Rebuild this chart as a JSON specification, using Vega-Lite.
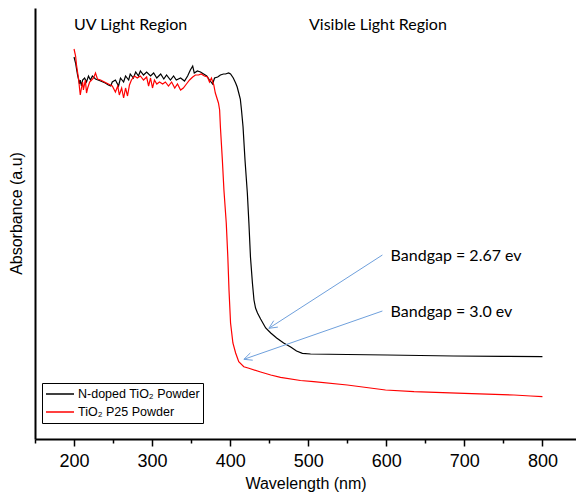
{
  "$schema": "https://vega.github.io/schema/vega-lite/v6.json",
  "width": 541,
  "height": 431,
  "autosize": {"type": "none"},
  "padding": {"left": 35, "top": 8, "right": 0, "bottom": 55},
  "background": "white",
  "config": {
    "view": {"stroke": null},
    "axis": {"domainColor": "black", "domainWidth": 2, "tickColor": "black", "labelColor": "black", "titleColor": "black", "labelFont": "Liberation Sans", "titleFont": "Liberation Sans", "titleFontWeight": "normal", "grid": false}
  },
  "layer": [
    {
      "data": {"values": [
        {"s":"N-doped TiO₂ Powder","w":200,"a":3.82},{"s":"N-doped TiO₂ Powder","w":202,"a":3.76},{"s":"N-doped TiO₂ Powder","w":203,"a":3.71},{"s":"N-doped TiO₂ Powder","w":204.5,"a":3.64},{"s":"N-doped TiO₂ Powder","w":206,"a":3.59},{"s":"N-doped TiO₂ Powder","w":207,"a":3.55},{"s":"N-doped TiO₂ Powder","w":208,"a":3.59},{"s":"N-doped TiO₂ Powder","w":209.5,"a":3.53},{"s":"N-doped TiO₂ Powder","w":211,"a":3.59},{"s":"N-doped TiO₂ Powder","w":213.5,"a":3.61},{"s":"N-doped TiO₂ Powder","w":216,"a":3.57},{"s":"N-doped TiO₂ Powder","w":218.5,"a":3.63},{"s":"N-doped TiO₂ Powder","w":221,"a":3.59},{"s":"N-doped TiO₂ Powder","w":223.5,"a":3.63},{"s":"N-doped TiO₂ Powder","w":227.5,"a":3.60},{"s":"N-doped TiO₂ Powder","w":234,"a":3.58},{"s":"N-doped TiO₂ Powder","w":240,"a":3.56},{"s":"N-doped TiO₂ Powder","w":244,"a":3.54},{"s":"N-doped TiO₂ Powder","w":247,"a":3.53},{"s":"N-doped TiO₂ Powder","w":249,"a":3.57},{"s":"N-doped TiO₂ Powder","w":253,"a":3.59},{"s":"N-doped TiO₂ Powder","w":257,"a":3.53},{"s":"N-doped TiO₂ Powder","w":259.5,"a":3.61},{"s":"N-doped TiO₂ Powder","w":263.5,"a":3.57},{"s":"N-doped TiO₂ Powder","w":266,"a":3.63},{"s":"N-doped TiO₂ Powder","w":270,"a":3.59},{"s":"N-doped TiO₂ Powder","w":272,"a":3.65},{"s":"N-doped TiO₂ Powder","w":276,"a":3.61},{"s":"N-doped TiO₂ Powder","w":279,"a":3.67},{"s":"N-doped TiO₂ Powder","w":282.5,"a":3.63},{"s":"N-doped TiO₂ Powder","w":285,"a":3.68},{"s":"N-doped TiO₂ Powder","w":289,"a":3.64},{"s":"N-doped TiO₂ Powder","w":293,"a":3.67},{"s":"N-doped TiO₂ Powder","w":298,"a":3.63},{"s":"N-doped TiO₂ Powder","w":302,"a":3.66},{"s":"N-doped TiO₂ Powder","w":306,"a":3.61},{"s":"N-doped TiO₂ Powder","w":311,"a":3.65},{"s":"N-doped TiO₂ Powder","w":315,"a":3.60},{"s":"N-doped TiO₂ Powder","w":318.5,"a":3.64},{"s":"N-doped TiO₂ Powder","w":323.5,"a":3.59},{"s":"N-doped TiO₂ Powder","w":327.5,"a":3.63},{"s":"N-doped TiO₂ Powder","w":331,"a":3.59},{"s":"N-doped TiO₂ Powder","w":336.5,"a":3.61},{"s":"N-doped TiO₂ Powder","w":341.5,"a":3.58},{"s":"N-doped TiO₂ Powder","w":345.5,"a":3.63},{"s":"N-doped TiO₂ Powder","w":349,"a":3.69},{"s":"N-doped TiO₂ Powder","w":352,"a":3.73},{"s":"N-doped TiO₂ Powder","w":354,"a":3.66},{"s":"N-doped TiO₂ Powder","w":358,"a":3.68},{"s":"N-doped TiO₂ Powder","w":362,"a":3.67},{"s":"N-doped TiO₂ Powder","w":366,"a":3.65},{"s":"N-doped TiO₂ Powder","w":370,"a":3.63},{"s":"N-doped TiO₂ Powder","w":373.5,"a":3.59},{"s":"N-doped TiO₂ Powder","w":377.5,"a":3.55},{"s":"N-doped TiO₂ Powder","w":380,"a":3.61},{"s":"N-doped TiO₂ Powder","w":384,"a":3.62},{"s":"N-doped TiO₂ Powder","w":387.5,"a":3.64},{"s":"N-doped TiO₂ Powder","w":391.5,"a":3.65},{"s":"N-doped TiO₂ Powder","w":394,"a":3.65},{"s":"N-doped TiO₂ Powder","w":398,"a":3.66},{"s":"N-doped TiO₂ Powder","w":400.5,"a":3.65},{"s":"N-doped TiO₂ Powder","w":404,"a":3.61},{"s":"N-doped TiO₂ Powder","w":407,"a":3.56},{"s":"N-doped TiO₂ Powder","w":409,"a":3.52},{"s":"N-doped TiO₂ Powder","w":411,"a":3.46},{"s":"N-doped TiO₂ Powder","w":413,"a":3.40},{"s":"N-doped TiO₂ Powder","w":414.5,"a":3.29},{"s":"N-doped TiO₂ Powder","w":416.5,"a":3.12},{"s":"N-doped TiO₂ Powder","w":419,"a":2.79},{"s":"N-doped TiO₂ Powder","w":422,"a":2.46},{"s":"N-doped TiO₂ Powder","w":424,"a":2.16},{"s":"N-doped TiO₂ Powder","w":426,"a":1.82},{"s":"N-doped TiO₂ Powder","w":428.5,"a":1.56},{"s":"N-doped TiO₂ Powder","w":430.5,"a":1.39},{"s":"N-doped TiO₂ Powder","w":432.5,"a":1.31},{"s":"N-doped TiO₂ Powder","w":435,"a":1.26},{"s":"N-doped TiO₂ Powder","w":439,"a":1.20},{"s":"N-doped TiO₂ Powder","w":445.5,"a":1.11},{"s":"N-doped TiO₂ Powder","w":452,"a":1.06},{"s":"N-doped TiO₂ Powder","w":459.5,"a":1.01},{"s":"N-doped TiO₂ Powder","w":468.5,"a":0.96},{"s":"N-doped TiO₂ Powder","w":477.5,"a":0.92},{"s":"N-doped TiO₂ Powder","w":485,"a":0.88},{"s":"N-doped TiO₂ Powder","w":492.5,"a":0.857},{"s":"N-doped TiO₂ Powder","w":503,"a":0.85},{"s":"N-doped TiO₂ Powder","w":550,"a":0.845},{"s":"N-doped TiO₂ Powder","w":601,"a":0.84},{"s":"N-doped TiO₂ Powder","w":686,"a":0.83},{"s":"N-doped TiO₂ Powder","w":750,"a":0.826},{"s":"N-doped TiO₂ Powder","w":800,"a":0.823},
        {"s":"TiO₂ P25 Powder","w":200,"a":3.90},{"s":"TiO₂ P25 Powder","w":202,"a":3.83},{"s":"TiO₂ P25 Powder","w":203,"a":3.75},{"s":"TiO₂ P25 Powder","w":204.5,"a":3.67},{"s":"TiO₂ P25 Powder","w":206,"a":3.59},{"s":"TiO₂ P25 Powder","w":207,"a":3.51},{"s":"TiO₂ P25 Powder","w":208,"a":3.44},{"s":"TiO₂ P25 Powder","w":209.5,"a":3.51},{"s":"TiO₂ P25 Powder","w":211,"a":3.57},{"s":"TiO₂ P25 Powder","w":212,"a":3.49},{"s":"TiO₂ P25 Powder","w":213.5,"a":3.55},{"s":"TiO₂ P25 Powder","w":214.5,"a":3.59},{"s":"TiO₂ P25 Powder","w":216,"a":3.46},{"s":"TiO₂ P25 Powder","w":217.5,"a":3.51},{"s":"TiO₂ P25 Powder","w":220,"a":3.57},{"s":"TiO₂ P25 Powder","w":222.5,"a":3.59},{"s":"TiO₂ P25 Powder","w":225,"a":3.61},{"s":"TiO₂ P25 Powder","w":227.5,"a":3.66},{"s":"TiO₂ P25 Powder","w":230,"a":3.60},{"s":"TiO₂ P25 Powder","w":234,"a":3.59},{"s":"TiO₂ P25 Powder","w":239,"a":3.57},{"s":"TiO₂ P25 Powder","w":244,"a":3.55},{"s":"TiO₂ P25 Powder","w":249,"a":3.53},{"s":"TiO₂ P25 Powder","w":253,"a":3.47},{"s":"TiO₂ P25 Powder","w":256,"a":3.53},{"s":"TiO₂ P25 Powder","w":258,"a":3.44},{"s":"TiO₂ P25 Powder","w":261,"a":3.51},{"s":"TiO₂ P25 Powder","w":263.5,"a":3.41},{"s":"TiO₂ P25 Powder","w":266,"a":3.51},{"s":"TiO₂ P25 Powder","w":268.5,"a":3.43},{"s":"TiO₂ P25 Powder","w":271,"a":3.54},{"s":"TiO₂ P25 Powder","w":273.5,"a":3.59},{"s":"TiO₂ P25 Powder","w":277.5,"a":3.63},{"s":"TiO₂ P25 Powder","w":281,"a":3.61},{"s":"TiO₂ P25 Powder","w":285,"a":3.63},{"s":"TiO₂ P25 Powder","w":289,"a":3.59},{"s":"TiO₂ P25 Powder","w":293,"a":3.62},{"s":"TiO₂ P25 Powder","w":295.5,"a":3.53},{"s":"TiO₂ P25 Powder","w":298,"a":3.61},{"s":"TiO₂ P25 Powder","w":300.5,"a":3.51},{"s":"TiO₂ P25 Powder","w":303,"a":3.59},{"s":"TiO₂ P25 Powder","w":306,"a":3.55},{"s":"TiO₂ P25 Powder","w":309.5,"a":3.57},{"s":"TiO₂ P25 Powder","w":313.5,"a":3.55},{"s":"TiO₂ P25 Powder","w":317,"a":3.57},{"s":"TiO₂ P25 Powder","w":321,"a":3.53},{"s":"TiO₂ P25 Powder","w":325,"a":3.57},{"s":"TiO₂ P25 Powder","w":329,"a":3.51},{"s":"TiO₂ P25 Powder","w":332.5,"a":3.55},{"s":"TiO₂ P25 Powder","w":336.5,"a":3.49},{"s":"TiO₂ P25 Powder","w":340,"a":3.51},{"s":"TiO₂ P25 Powder","w":344,"a":3.55},{"s":"TiO₂ P25 Powder","w":348,"a":3.59},{"s":"TiO₂ P25 Powder","w":352,"a":3.62},{"s":"TiO₂ P25 Powder","w":355.5,"a":3.64},{"s":"TiO₂ P25 Powder","w":359.5,"a":3.64},{"s":"TiO₂ P25 Powder","w":363,"a":3.65},{"s":"TiO₂ P25 Powder","w":367,"a":3.63},{"s":"TiO₂ P25 Powder","w":371,"a":3.62},{"s":"TiO₂ P25 Powder","w":373.5,"a":3.57},{"s":"TiO₂ P25 Powder","w":376,"a":3.61},{"s":"TiO₂ P25 Powder","w":379,"a":3.54},{"s":"TiO₂ P25 Powder","w":381,"a":3.46},{"s":"TiO₂ P25 Powder","w":385,"a":3.36},{"s":"TiO₂ P25 Powder","w":386.5,"a":3.29},{"s":"TiO₂ P25 Powder","w":387.5,"a":3.12},{"s":"TiO₂ P25 Powder","w":390,"a":2.79},{"s":"TiO₂ P25 Powder","w":392,"a":2.49},{"s":"TiO₂ P25 Powder","w":395,"a":2.16},{"s":"TiO₂ P25 Powder","w":397,"a":1.82},{"s":"TiO₂ P25 Powder","w":398.5,"a":1.49},{"s":"TiO₂ P25 Powder","w":400.5,"a":1.16},{"s":"TiO₂ P25 Powder","w":403.5,"a":0.96},{"s":"TiO₂ P25 Powder","w":407,"a":0.86},{"s":"TiO₂ P25 Powder","w":411,"a":0.773},{"s":"TiO₂ P25 Powder","w":417.5,"a":0.723},{"s":"TiO₂ P25 Powder","w":424,"a":0.707},{"s":"TiO₂ P25 Powder","w":439,"a":0.67},{"s":"TiO₂ P25 Powder","w":452,"a":0.64},{"s":"TiO₂ P25 Powder","w":464.5,"a":0.617},{"s":"TiO₂ P25 Powder","w":490,"a":0.585},{"s":"TiO₂ P25 Powder","w":507,"a":0.573},{"s":"TiO₂ P25 Powder","w":550,"a":0.54},{"s":"TiO₂ P25 Powder","w":599,"a":0.49},{"s":"TiO₂ P25 Powder","w":635.5,"a":0.473},{"s":"TiO₂ P25 Powder","w":700,"a":0.457},{"s":"TiO₂ P25 Powder","w":763.5,"a":0.44},{"s":"TiO₂ P25 Powder","w":785,"a":0.43},{"s":"TiO₂ P25 Powder","w":800,"a":0.423}
      ]},
      "mark": {"type": "line", "strokeWidth": 1.2, "clip": true},
      "encoding": {
        "x": {"field": "w", "type": "quantitative", "scale": {"domain": [150, 843], "nice": false, "zero": false},
          "axis": {"title": "Wavelength (nm)", "values": [150,200,250,300,350,400,450,500,550,600,650,700,750,800], "labelExpr": "datum.value % 100 === 0 ? datum.label : ''", "labelOverlap": false, "labelFontSize": 18, "titleFontSize": 16, "tickWidth": 1.5, "tickSize": {"condition": {"test": "datum.value % 100 === 0", "value": 7}, "value": 4}, "labelPadding": 6, "titlePadding": 5}},
        "y": {"field": "a", "type": "quantitative", "scale": {"domain": [0, 4.31], "nice": false},
          "axis": {"title": "Absorbance (a.u)", "ticks": false, "labels": false, "titleFontSize": 16, "titlePadding": 11, "minExtent": 0, "titleY": 205}},
        "color": {"field": "s", "type": "nominal", "scale": {"domain": ["N-doped TiO₂ Powder", "TiO₂ P25 Powder"], "range": ["#000000", "#ff0000"]},
          "legend": {"orient": "none", "legendX": 7, "legendY": 375, "title": null, "symbolType": "stroke", "symbolSize": 784, "symbolStrokeWidth": 1.5, "labelFont": "Liberation Sans", "labelFontSize": 12.5, "labelColor": "black", "labelOffset": 3, "fillColor": "white", "strokeColor": "black", "padding": 3, "rowPadding": 2, "clipHeight": 16}}
      }
    },
    {
      "mark": {"type": "rule", "color": "#777777", "strokeWidth": 1.5},
      "encoding": {"x": {"datum": 400}}
    },
    {
      "mark": {"type": "rule", "color": "black", "strokeWidth": 2},
      "encoding": {"y": {"datum": 4.31}}
    },
    {
      "data": {"values": [
        {"w": 595, "a": 1.84, "w2": 449.6, "a2": 1.107},
        {"w": 449.6, "a": 1.107, "w2": 461.1, "a2": 1.119},
        {"w": 449.6, "a": 1.107, "w2": 455.8, "a2": 1.183},
        {"w": 595, "a": 1.28, "w2": 417.6, "a2": 0.797},
        {"w": 417.6, "a": 0.797, "w2": 428.9, "a2": 0.788},
        {"w": 417.6, "a": 0.797, "w2": 425.8, "a2": 0.86}
      ]},
      "mark": {"type": "rule", "color": "#6fa0dc", "strokeWidth": 1},
      "encoding": {
        "x": {"field": "w", "type": "quantitative"},
        "y": {"field": "a", "type": "quantitative"},
        "x2": {"field": "w2"},
        "y2": {"field": "a2"}
      }
    },
    {
      "data": {"values": [
        {"t": "UV Light Region", "w": 200, "a": 4.095},
        {"t": "Visible Light Region", "w": 501, "a": 4.095},
        {"t": "Bandgap = 2.67 ev", "w": 605.5, "a": 1.78},
        {"t": "Bandgap = 3.0 ev", "w": 605.5, "a": 1.217}
      ]},
      "mark": {"type": "text", "align": "left", "baseline": "alphabetic", "font": "Lato", "fontSize": 16, "color": "black"},
      "encoding": {
        "x": {"field": "w", "type": "quantitative"},
        "y": {"field": "a", "type": "quantitative"},
        "text": {"field": "t"}
      }
    }
  ]
}
